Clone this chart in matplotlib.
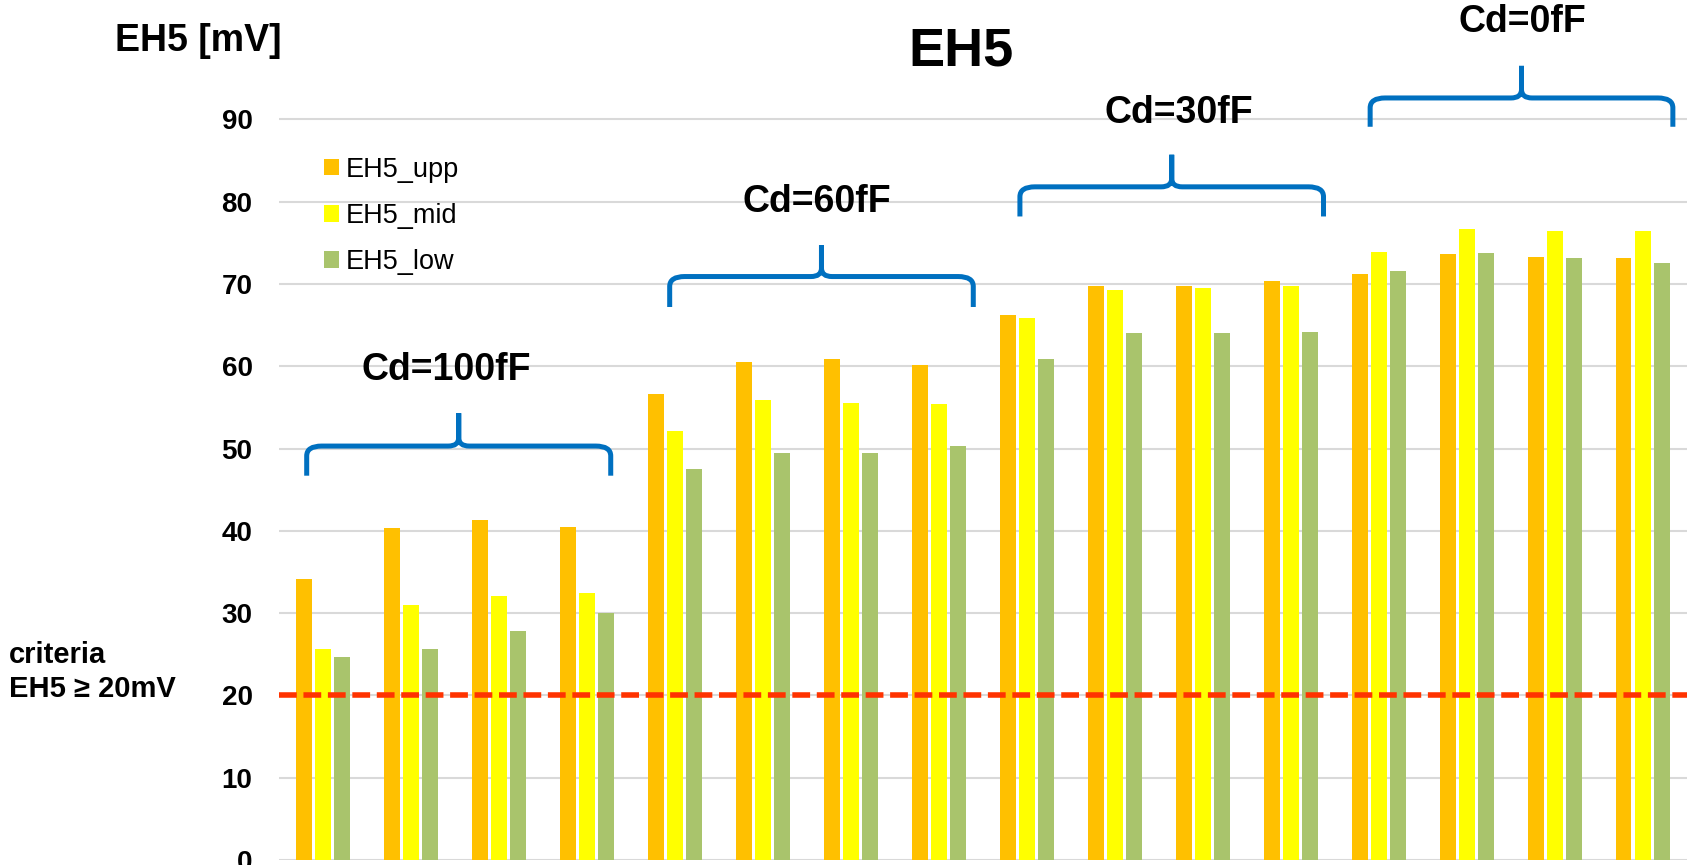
import numpy as np
import matplotlib
matplotlib.use('Agg')
import matplotlib.pyplot as plt
from matplotlib.path import Path
from matplotlib.patches import PathPatch

plt.rcParams['font.family'] = ['Liberation Sans', 'DejaVu Sans']

# ------------------------------------------------
# data
# ------------------------------------------------
eh5_upp = [34.1, 40.4, 41.3, 40.5, 56.6, 60.5, 60.9, 60.1,
           66.2, 69.7, 69.8, 70.4, 71.2, 73.6, 73.3, 73.1]
eh5_mid = [25.7, 31.0, 32.1, 32.5, 52.1, 55.9, 55.5, 55.4,
           65.9, 69.3, 69.5, 69.8, 73.9, 76.7, 76.4, 76.4]
eh5_low = [24.7, 25.6, 27.8, 30.0, 47.5, 49.5, 49.5, 50.3,
           60.9, 64.0, 64.0, 64.1, 71.6, 73.8, 73.2, 72.6]
series_names = ['EH5_upp', 'EH5_mid', 'EH5_low']
group_labels = ['Cd=100fF', 'Cd=60fF', 'Cd=30fF', 'Cd=0fF']
criteria = 20
yticks = [0, 10, 20, 30, 40, 50, 60, 70, 80, 90]

colors = ['#FFC000', '#FFFF00', '#A9C46C']
blue = '#0070C0'

# brace layout: x left, x right, y of bar, y of tips, y of peak
braces = [(-0.185, 3.27, 50.3, 46.7, 54.3),
          (3.94, 7.39, 70.9, 67.2, 74.7),
          (7.92, 11.37, 81.8, 78.2, 85.7),
          (11.90, 15.34, 92.6, 89.1, 96.5)]
label_pos = [(1.40, 59.5), (5.61, 80.0), (9.73, 90.8), (13.63, 101.8)]

fig = plt.figure(figsize=(16.99, 8.65), dpi=100)
ax = fig.add_axes([0.1642, 0.00578, 0.8287, 0.9038])

x = np.arange(len(eh5_upp))
step = 0.216
width = 0.172
for i, vals in enumerate([eh5_upp, eh5_mid, eh5_low]):
    ax.bar(x + (i - 1) * step, vals, width, color=colors[i],
           label=series_names[i], zorder=2)

# criteria line
ax.axhline(criteria, color='#FF3300', lw=4, linestyle=(0, (3.2, 1.2)), zorder=3)

ax.set_xlim(-0.5, len(x) - 0.5)
ax.set_ylim(0, 95)
ax.set_yticks(yticks)
ax.set_xticks([])
ax.grid(axis='y', color='#D9D9D9', lw=1.5, zorder=0)
ax.tick_params(axis='y', length=0, pad=19, labelsize=20)
for t in ax.get_yticklabels():
    t.set_fontweight('bold')
for s in ax.spines.values():
    s.set_visible(False)


def brace_path(x0, x1, yb, yt, yp):
    xm = (x0 + x1) / 2
    rx, ry = 0.17, 1.2
    rx2, ry2 = 0.12, 1.0
    verts = [(x0, yt), (x0, yb - ry), (x0, yb), (x0 + rx, yb),
             (xm - rx2, yb), (xm, yb), (xm, yb + ry2), (xm, yp),
             (x1, yt), (x1, yb - ry), (x1, yb), (x1 - rx, yb),
             (xm + rx2, yb), (xm, yb), (xm, yb + ry2), (xm, yp)]
    codes = [Path.MOVETO, Path.LINETO, Path.CURVE3, Path.CURVE3,
             Path.LINETO, Path.CURVE3, Path.CURVE3, Path.LINETO] * 2
    return Path(verts, codes)


for (x0, x1, yb, yt, yp), lbl, (lx, ly) in zip(braces, group_labels, label_pos):
    p = PathPatch(brace_path(x0, x1, yb, yt, yp), fill=False, edgecolor=blue,
                  lw=3.6, capstyle='butt', joinstyle='round', clip_on=False, zorder=4)
    ax.add_patch(p)
    ax.text(lx, ly, lbl, ha='center', va='center', fontsize=27,
            fontweight='bold', clip_on=False)

ax.legend(loc='upper left', bbox_to_anchor=(0.1907, 0.819),
          bbox_transform=fig.transFigure, frameon=False, fontsize=19.5,
          handlelength=0.57, handleheight=0.57, handletextpad=0.25,
          labelspacing=0.75, borderpad=0, borderaxespad=0)

fig.text(0.5656, 0.941, 'EH5', ha='center', va='center', fontsize=39,
         fontweight='bold')
fig.text(0.1165, 0.9526, 'EH5 [mV]', ha='center', va='center', fontsize=27,
         fontweight='bold')
fig.text(0.0053, 0.2428, 'criteria', ha='left', va='center', fontsize=21,
         fontweight='bold')
fig.text(0.0053, 0.2035, 'EH5 \u2265 20mV', ha='left', va='center', fontsize=21,
         fontweight='bold')

fig.savefig('out.png', dpi=100)
